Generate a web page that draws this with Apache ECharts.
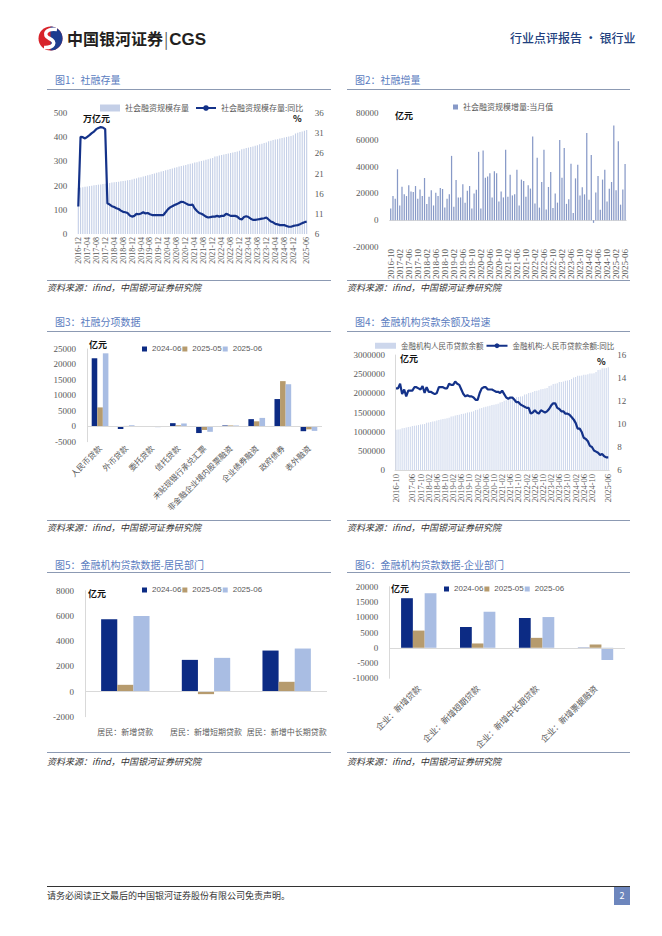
<!DOCTYPE html>
<html><head><meta charset="utf-8">
<script src="https://cdn.jsdelivr.net/npm/echarts/dist/echarts.min.js"></script>
<style>
body{margin:0;background:#fff;}
#page{position:relative;width:662px;height:936px;overflow:hidden;background:#fff;font-family:"Noto Sans CJK SC",sans-serif;}
.abs{position:absolute;white-space:nowrap;}
.ttl{font-size:10px;color:#5a7cc0;line-height:12px;}
.hl{height:0;border-top:1px solid #8c9ab3;}
.src{font-size:9px;color:#333;font-style:italic;line-height:12px;}
.unit{font-size:9px;font-weight:bold;color:#111;line-height:10px;z-index:5;}
.chart{position:absolute;}
</style></head>
<body><div id="page">
<!-- header -->
<svg class="abs" style="left:37px;top:26px" width="27" height="25" viewBox="0 0 27 25">
<circle cx="13.5" cy="12.5" r="12" fill="#d8232a"/>
<path d="M13.5 0.5 A12 12 0 0 1 13.5 24.5 Z" fill="#1d3c8f"/>
<path d="M20 3.5 C9 2,5 9,12.5 12.5 C20 16,17 22,7 21.5" stroke="#fff" stroke-width="3.6" fill="none"/>
</svg>
<div class="abs" style="left:67px;top:28px;font-size:16px;font-weight:bold;color:#231f20;line-height:20px;">中国银河证券<span style="font-weight:normal;color:#555;margin:0 1px;">|</span><span style="font-family:'Liberation Sans',Arial,sans-serif;font-size:17px;">CGS</span></div>
<div class="abs" style="left:510px;top:31px;font-size:12px;color:#21407e;line-height:14px;font-weight:500;">行业点评报告 · 银行业</div>

<!-- titles -->
<div class="abs ttl" style="left:55px;top:74px;">图1：社融存量</div>
<div class="abs ttl" style="left:355px;top:74px;">图2：社融增量</div>
<div class="abs hl" style="left:47px;top:89px;width:284px;"></div>
<div class="abs hl" style="left:347px;top:89px;width:283px;"></div>
<div class="abs hl" style="left:47px;top:280px;width:284px;"></div>
<div class="abs hl" style="left:347px;top:280px;width:283px;"></div>
<div class="abs src" style="left:47px;top:282px;">资料来源：ifind，中国银河证券研究院</div>
<div class="abs src" style="left:347px;top:282px;">资料来源：ifind，中国银河证券研究院</div>

<div class="abs ttl" style="left:55px;top:316px;">图3：社融分项数据</div>
<div class="abs ttl" style="left:355px;top:316px;">图4：金融机构贷款余额及增速</div>
<div class="abs hl" style="left:47px;top:331px;width:284px;"></div>
<div class="abs hl" style="left:347px;top:331px;width:283px;"></div>
<div class="abs hl" style="left:47px;top:520px;width:284px;"></div>
<div class="abs hl" style="left:347px;top:520px;width:283px;"></div>
<div class="abs src" style="left:47px;top:522px;">资料来源：ifind，中国银河证券研究院</div>
<div class="abs src" style="left:347px;top:522px;">资料来源：ifind，中国银河证券研究院</div>

<div class="abs ttl" style="left:55px;top:559px;">图5：金融机构贷款数据-居民部门</div>
<div class="abs ttl" style="left:355px;top:559px;">图6：金融机构贷款数据-企业部门</div>
<div class="abs hl" style="left:47px;top:572px;width:284px;"></div>
<div class="abs hl" style="left:347px;top:572px;width:283px;"></div>
<div class="abs hl" style="left:47px;top:752px;width:284px;"></div>
<div class="abs hl" style="left:347px;top:752px;width:283px;"></div>
<div class="abs src" style="left:47px;top:756px;">资料来源：ifind，中国银河证券研究院</div>
<div class="abs src" style="left:347px;top:756px;">资料来源：ifind，中国银河证券研究院</div>

<!-- footer -->
<div class="abs" style="left:47px;top:886px;width:583px;height:0;border-top:1.5px solid #333;"></div>
<div class="abs" style="left:47px;top:890px;font-size:9px;color:#333;line-height:12px;">请务必阅读正文最后的中国银河证券股份有限公司免责声明。</div>
<div class="abs" style="left:614px;top:887px;width:16px;height:18px;background:#6d86bd;color:#fff;font-size:9px;line-height:18px;text-align:center;">2</div>

<!-- charts -->
<div id="c1" class="chart" style="left:40px;top:92px;width:295px;height:188px;"></div>
<div id="c2" class="chart" style="left:340px;top:92px;width:295px;height:188px;"></div>
<div id="c3" class="chart" style="left:40px;top:333px;width:295px;height:187px;"></div>
<div id="c4" class="chart" style="left:340px;top:333px;width:295px;height:187px;"></div>
<div id="c5" class="chart" style="left:40px;top:574px;width:295px;height:178px;"></div>
<div id="c6" class="chart" style="left:340px;top:574px;width:295px;height:178px;"></div>

<!-- units -->
<div class="abs unit" style="left:83px;top:114px;">万亿元</div>
<div class="abs unit" style="left:293px;top:114px;">%</div>
<div class="abs unit" style="left:395px;top:111px;">亿元</div>
<div class="abs unit" style="left:89px;top:340px;">亿元</div>
<div class="abs unit" style="left:400px;top:354px;">亿元</div>
<div class="abs unit" style="left:597px;top:357px;">%</div>
<div class="abs unit" style="left:88px;top:589px;">亿元</div>
<div class="abs unit" style="left:391px;top:584px;">亿元</div>
</div>
<script>
function months(y, m, n){ var a=[]; for(var k=0;k<n;k++){ a.push(y+'-'+(m<10?'0'+m:m)); m++; if(m>12){m=1;y++;} } return a; }

// 图1 社融存量 (万亿元) 2016-12 ~ 2025-06
var stockCats = months(2016, 12, 103);
var stockVals = [190,192,193,195,196,198,199,201,202,204,205,207,208,
 210,211,213,214,215,216,218,219,220,222,223,225,
 228,230,233,235,238,240,243,245,248,250,253,255,
 258,260,263,266,269,271,274,276,279,281,283,285,
 288,290,292,295,297,300,302,304,307,309,312,314,
 320,321,324,326,328,331,333,335,337,339,341,344,
 350,352,355,357,360,362,365,367,371,373,376,378,
 383,385,388,390,392,395,397,399,401,403,405,408,
 415,418,422,424,427,430];
var stockYoY = [12.8,30.1,30.0,29.7,30.1,30.5,31.0,31.4,32.0,32.3,32.5,32.4,32.0,
 13.6,13.3,12.9,12.7,12.4,12.2,11.8,11.5,11.4,11.2,10.6,10.3,
 10.5,11.0,10.9,11.1,11.4,11.1,11.2,10.9,10.7,10.7,10.7,10.7,
 10.7,10.7,11.4,12.1,12.6,12.9,13.2,13.4,13.7,14.0,13.9,13.6,
 13.3,13.2,13.3,12.3,11.7,11.2,11.0,10.7,10.3,10.1,10.2,10.3,
 10.3,10.5,10.3,10.5,10.5,11.0,10.8,10.5,10.5,10.5,10.3,9.8,
 9.6,10.2,10.4,10.2,9.8,9.5,9.5,9.6,9.7,9.8,9.9,10.1,
 9.6,9.1,8.9,8.5,8.4,8.2,8.2,8.2,8.0,7.8,7.8,8.0,
 8.1,8.2,8.4,8.7,8.9,9.1];

// 图2 社融增量当月值 (亿元) 2016-10 ~ 2025-06
var flowCats = months(2016, 10, 105);
var flowVals = [8700,18000,16000,38000,11000,25000,19400,18000,26000,21500,21000,25500,
 16000,23000,18000,31500,12000,17500,22300,11000,20500,18000,24000,23300,
 9400,16000,19400,48000,10000,30000,17000,17000,26800,13000,22000,25500,
 8700,20000,22800,51000,8700,52000,31700,32700,35000,17000,36500,35000,
 14000,21500,17000,52500,17500,34000,18500,19400,37700,11000,30300,29300,
 17500,26000,23600,62500,12400,46600,9400,28500,52500,8000,24800,36000,
 9079,19900,13100,59800,31600,53800,12200,15600,42200,5282,31200,41300,
 18400,24500,19300,65000,15200,48700,-1987,20600,33000,7708,30300,37600,
 14000,23400,28500,70600,22300,58900,11600,22900,42000];

// 图3 社融分项 (亿元)
var itemCats = ['人民币贷款','外币贷款','委托贷款','信托贷款','未贴现银行承兑汇票','非金融企业境内股票融资','企业债券融资','政府债券','表外融资'];
var item2406 = [22000,-900,-30,1000,-2200,250,2300,8800,-1600];
var item2505 = [6100,100,-60,300,-1200,250,1600,14600,-1000];
var item2506 = [23600,300,-300,900,-1800,250,2700,13600,-1500];

// 图4 金融机构人民币贷款余额 (亿元) 与同比 (%) 2016-10 ~ 2025-06
var loanCats = months(2016, 10, 105);
var loanBal = [1049000,1057000,1066000,
 1086000,1097000,1108000,1119000,1130000,1145000,1153000,1164000,1177000,1184000,1196000,1201000,
 1230000,1238000,1250000,1262000,1273000,1291000,1304000,1317000,1330000,1337000,1350000,1363000,
 1396000,1405000,1422000,1432000,1444000,1460000,1470000,1482000,1498000,1505000,1519000,1531000,
 1565000,1574000,1602000,1619000,1634000,1652000,1662000,1675000,1694000,1701000,1715000,1727000,
 1763000,1777000,1804000,1818000,1833000,1855000,1866000,1878000,1895000,1903000,1916000,1927000,
 1967000,1979000,2010000,2016000,2035000,2063000,2070000,2083000,2108000,2114000,2126000,2140000,
 2189000,2207000,2246000,2253000,2266000,2297000,2293000,2306000,2330000,2337000,2348000,2376000,
 2410000,2425000,2456000,2457000,2467000,2488000,2486000,2495000,2515000,2520000,2525000,2557000,
 2608000,2618000,2654000,2655000,2662000,2683000];
var loanYoY = [13.1,13.1,13.5,
 12.6,13.0,12.4,12.9,12.9,12.9,13.2,13.2,13.1,13.0,13.3,12.7,
 13.2,12.8,12.8,12.7,12.6,12.7,13.2,13.2,13.2,13.1,13.1,13.5,
 13.4,13.4,13.7,13.5,13.4,13.0,12.6,12.4,12.5,12.4,12.4,12.3,
 12.1,12.1,12.7,13.1,13.2,13.2,13.0,13.0,13.0,12.9,12.8,12.8,
 12.7,12.9,12.6,12.3,12.2,12.3,12.3,12.1,11.9,11.9,11.7,11.6,
 11.5,11.4,11.4,10.9,11.0,11.2,11.0,10.9,11.2,11.1,11.0,11.1,
 11.3,11.6,11.8,11.8,11.4,11.3,11.1,11.1,10.9,10.9,10.8,10.6,
 10.4,10.1,9.6,9.6,9.3,8.8,8.7,8.5,8.1,8.0,7.7,7.6,
 7.5,7.3,7.4,7.2,7.1,7.1];

// 图5 居民部门 (亿元)
var hhCats = ['居民：新增贷款','居民：新增短期贷款','居民：新增中长期贷款'];
var hh2406 = [5740,2510,3250];
var hh2505 = [530,-210,770];
var hh2506 = [6000,2670,3410];

// 图6 企业部门 (亿元)
var corpCats = ['企业：新增贷款','企业：新增短期贷款','企业：新增中长期贷款','企业：新增票据融资'];
var corp2406 = [16230,6820,9740,-320];
var corp2505 = [5630,1410,3250,1080];
var corp2506 = [17860,11800,10060,-4000];

var NUM = '"Liberation Serif","Noto Sans CJK SC",serif';
var CJK = '"Noto Sans CJK SC",sans-serif';
var SANS = '"Liberation Sans","Noto Sans CJK SC",sans-serif';
var LBL = '#595959';
var NAVY = '#0c2b84', TAN = '#b69b6e', LIGHT = '#a9bde3', LINE = '#143289';
var AXL = '#d9d9d9';
function plain(v){ return String(v); }

function mk(id, opt){
  var c = echarts.init(document.getElementById(id), null, {renderer:'svg'});
  opt.animation = false;
  c.setOption(opt);
}
function yAx(min,max,itv,pos,margin,showLine){
  return {type:'value',min:min,max:max,interval:itv,position:pos||'left',
    splitLine:{show:false},axisTick:{show:false},
    axisLine:{show:!!showLine,lineStyle:{color:AXL}},
    axisLabel:{fontSize:9,color:LBL,fontFamily:NUM,margin:margin,formatter:plain,showMinLabel:true,showMaxLabel:true}};
}
function zeroLine(){
  return {silent:true,symbol:'none',label:{show:false},lineStyle:{color:AXL,type:'solid',width:1},data:[{yAxis:0}]};
}
function timeLabels(size, margin){
  return {interval:3,rotate:90,fontSize:size,color:LBL,fontFamily:NUM,margin:margin,
    showMinLabel:true,showMaxLabel:true,hideOverlap:false};
}

// chart 1
mk('c1',{
  grid:{left:37.2,top:21,width:230.6,height:121,outerBoundsMode:'none'},
  legend:{left:55,top:7,itemWidth:20,itemHeight:7,itemGap:6,
    textStyle:{fontSize:8,color:LBL,fontFamily:CJK},
    data:[{name:'社会融资规模存量',icon:'rect'},{name:'社会融资规模存量:同比'}]},
  xAxis:{type:'category',data:stockCats,axisTick:{show:false},axisLine:{show:false},
    axisLabel:timeLabels(8,3)},
  yAxis:[yAx(0,500,100,'left',10,false), yAx(6,36,5,'right',7,false)],
  series:[
    {name:'社会融资规模存量',type:'bar',data:stockVals,barCategoryGap:'50%',itemStyle:{color:'#c4cfe7'}},
    {name:'社会融资规模存量:同比',type:'line',yAxisIndex:1,data:stockYoY,symbol:'none',showSymbol:false,
      lineStyle:{color:LINE,width:2.2},itemStyle:{color:LINE}}
  ]
});

// chart 2
mk('c2',{
  grid:{left:49.6,top:21,width:236.6,height:134,outerBoundsMode:'none'},
  legend:{left:108,top:6,itemWidth:5,itemHeight:5,
    textStyle:{fontSize:8,color:LBL,fontFamily:CJK},
    data:[{name:'社会融资规模增量:当月值',icon:'rect'}]},
  xAxis:{type:'category',data:flowCats,axisTick:{show:false},
    axisLine:{show:true,onZero:true,lineStyle:{color:AXL}},
    axisLabel:timeLabels(9,2)},
  yAxis:yAx(-20000,80000,20000,'left',11,false),
  series:[{name:'社会融资规模增量:当月值',type:'bar',data:flowVals,barCategoryGap:'45%',itemStyle:{color:'#8799c7'}}]
});

// grouped bar helper
function grouped(id, grid, legendLeft, legendTop, cats, a, b, c, ymin, ymax, itv, labelOpt, gap){
  mk(id,{
    grid:grid,
    legend:{left:legendLeft,top:legendTop,itemWidth:5,itemHeight:5,itemGap:1,
      textStyle:{fontSize:8,color:LBL,fontFamily:SANS},
      data:[{name:'2024-06',icon:'rect'},{name:'2025-05',icon:'rect'},{name:'2025-06',icon:'rect'}]},
    xAxis:{type:'category',data:cats,axisTick:{show:false},
      axisLine:{show:false,onZero:false},axisLabel:labelOpt},
    yAxis:yAx(ymin,ymax,itv,'left',11,true),
    series:[
      {name:'2024-06',type:'bar',data:a,barGap:'0%',barCategoryGap:gap,itemStyle:{color:NAVY},markLine:zeroLine()},
      {name:'2025-05',type:'bar',data:b,barGap:'0%',barCategoryGap:gap,itemStyle:{color:TAN}},
      {name:'2025-06',type:'bar',data:c,barGap:'0%',barCategoryGap:gap,itemStyle:{color:LIGHT}}
    ]
  });
}

// chart 3
grouped('c3',{left:47,top:16,width:235,height:92.7,outerBoundsMode:'none'},97,7,
  itemCats,item2406,item2505,item2506,-5000,25000,5000,
  {interval:0,rotate:45,fontSize:8,color:LBL,fontFamily:CJK,margin:5,hideOverlap:false},'36%');

// chart 4
mk('c4',{
  grid:{left:55,top:22,width:214.3,height:115,outerBoundsMode:'none'},
  legend:{left:30,top:4,itemWidth:21,itemHeight:6,itemGap:2,
    textStyle:{fontSize:7.5,color:LBL,fontFamily:CJK},
    data:[{name:'金融机构人民币贷款余额',icon:'rect'},{name:'金融机构:人民币贷款余额:同比'}]},
  xAxis:{type:'category',data:loanCats,axisTick:{show:false},
    axisLine:{show:true,lineStyle:{color:AXL}},
    axisLabel:timeLabels(8.5,4)},
  yAxis:[yAx(0,3000000,500000,'left',10,true), yAx(6,16,2,'right',8,false)],
  series:[
    {name:'金融机构人民币贷款余额',type:'bar',data:loanBal,barCategoryGap:'50%',itemStyle:{color:'#cdd7ec'}},
    {name:'金融机构:人民币贷款余额:同比',type:'line',yAxisIndex:1,data:loanYoY,symbol:'none',showSymbol:false,
      lineStyle:{color:LINE,width:2.2},itemStyle:{color:LINE}}
  ]
});

// chart 5
grouped('c5',{left:45,top:16.7,width:242,height:126,outerBoundsMode:'none'},97,7,
  hhCats,hh2406,hh2505,hh2506,-2000,8000,2000,
  {interval:0,rotate:0,fontSize:8,color:LBL,fontFamily:CJK,margin:11,hideOverlap:false},'40%');

// chart 6
grouped('c6',{left:49.3,top:12.7,width:235.7,height:91.6,outerBoundsMode:'none'},99,6,
  corpCats,corp2406,corp2505,corp2506,-10000,20000,5000,
  {interval:0,rotate:45,fontSize:8.5,color:LBL,fontFamily:CJK,margin:8,hideOverlap:false},'40%');
</script>
</body></html>
